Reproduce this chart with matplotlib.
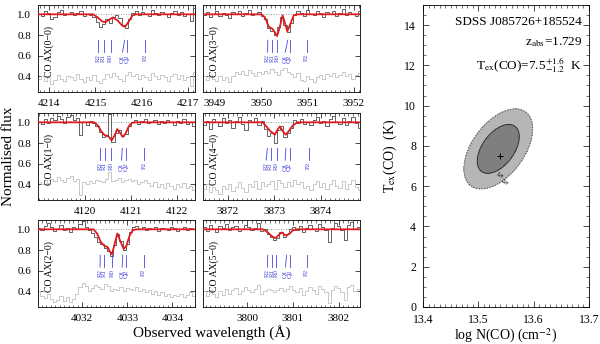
import numpy as np
import matplotlib
matplotlib.use("Agg")
import matplotlib.pyplot as plt
from matplotlib.ticker import MultipleLocator

plt.rcParams['font.family'] = ['Liberation Serif', 'DejaVu Serif']
plt.rcParams['mathtext.fontset'] = 'stix'

# ---- spectra: pixel step (A), start wavelength, flux, residual (offset to 0.4), model knots
STEP = 0.07
line_names = ['R2', 'R1', 'R0', 'Q1', 'Q2', 'P2']

# CO AX(0-0)
wl0_00 = 4213.78
flux_00 = [1.00, 0.98, 1.03, 1.01, 0.95, 0.97, 1.02, 1.04, 0.99, 1.00,
           1.02, 0.99, 1.01, 1.03, 0.98, 1.00, 0.99, 0.97, 0.93, 0.88,
           0.91, 0.95, 0.92, 0.97, 0.99, 0.96, 0.90, 0.87, 0.95, 1.01,
           1.03, 0.99, 1.02, 1.00, 0.98, 1.04, 1.01, 0.99, 1.02, 1.00,
           0.97, 1.01, 1.03, 0.99, 1.02, 0.98, 1.00, 0.94, 1.06, 1.03]
resid_00 = [0.38, 0.40, 0.36, 0.39, 0.33, 0.37, 0.41, 0.38, 0.36, 0.40,
            0.39, 0.37, 0.42, 0.38, 0.35, 0.39, 0.37, 0.41, 0.36, 0.34,
            0.38, 0.42, 0.39, 0.43, 0.40, 0.38, 0.36, 0.41, 0.44, 0.40,
            0.42, 0.38, 0.41, 0.39, 0.37, 0.43, 0.40, 0.38, 0.41, 0.39,
            0.36, 0.40, 0.42, 0.38, 0.41, 0.37, 0.39, 0.31, 0.44, 0.42]
model_wl_00 = [4213.76, 4214.95, 4215.05, 4215.15, 4215.22, 4215.30, 4215.38,
               4215.48, 4215.58, 4215.64, 4215.72, 4215.80, 4215.88, 4217.15]
model_00 = [1.00, 1.00, 0.97, 0.93, 0.925, 0.95, 0.97,
            0.94, 0.89, 0.88, 0.93, 0.99, 1.00, 1.00]
lines_00 = [4215.06, 4215.18, 4215.33, 4215.63, 4215.68, 4216.08]

# CO AX(3-0)
wl0_30 = 3948.76
flux_30 = [0.99, 1.02, 0.97, 1.00, 1.03, 0.98, 1.01, 0.99, 0.96, 1.02,
           1.00, 1.03, 0.98, 1.01, 1.04, 0.99, 1.00, 1.02, 0.98, 0.95,
           0.87, 0.84, 0.80, 0.88, 0.97, 0.90, 0.83, 0.92, 0.99, 1.03,
           1.01, 0.98, 1.04, 1.00, 0.99, 1.03, 1.01, 0.97, 1.02, 1.00,
           1.03, 0.98, 1.01, 1.05, 0.99, 1.02, 1.00, 0.98, 1.03, 1.01]
resid_30 = [0.40, 0.37, 0.41, 0.38, 0.36, 0.40, 0.37, 0.39, 0.35, 0.40,
            0.44, 0.42, 0.45, 0.41, 0.46, 0.43, 0.40, 0.44, 0.42, 0.45,
            0.43, 0.47, 0.44, 0.41, 0.46, 0.48, 0.44, 0.42, 0.39, 0.43,
            0.37, 0.36, 0.40, 0.38, 0.35, 0.39, 0.41, 0.38, 0.42, 0.40,
            0.43, 0.39, 0.41, 0.44, 0.40, 0.42, 0.38, 0.41, 0.43, 0.40]
model_wl_30 = [3948.74, 3950.00, 3950.08, 3950.16, 3950.24, 3950.30, 3950.34,
               3950.40, 3950.46, 3950.52, 3950.56, 3950.62, 3950.70, 3950.78, 3952.13]
model_30 = [1.00, 1.00, 0.97, 0.88, 0.86, 0.82, 0.79,
            0.88, 0.99, 0.90, 0.835, 0.90, 0.99, 1.00, 1.00]
lines_30 = [3950.14, 3950.23, 3950.34, 3950.57, 3950.61, 3950.98]

# CO AX(1-0)
wl0_10 = 4119.00
flux_10 = [1.00, 0.98, 1.03, 0.99, 1.04, 1.02, 1.06, 1.03, 0.99, 1.05,
           1.07, 1.02, 1.04, 0.88, 1.00, 0.97, 1.01, 0.99, 0.96, 0.91,
           0.86, 0.87, 1.08, 0.81, 0.90, 0.93, 0.87, 0.89, 0.96, 1.00,
           1.02, 0.98, 1.01, 1.03, 0.99, 1.00, 1.02, 0.98, 1.01, 0.99,
           1.02, 1.00, 0.97, 1.01, 0.99, 1.03, 0.98, 1.00, 0.96, 0.99]
resid_10 = [0.42, 0.40, 0.44, 0.41, 0.45, 0.43, 0.47, 0.44, 0.42, 0.46,
            0.48, 0.43, 0.45, 0.30, 0.42, 0.40, 0.43, 0.41, 0.44, 0.43,
            0.42, 0.45, 0.52, 0.43, 0.44, 0.46, 0.42, 0.44, 0.45, 0.43,
            0.44, 0.40, 0.42, 0.44, 0.41, 0.39, 0.42, 0.38, 0.40, 0.37,
            0.41, 0.39, 0.36, 0.40, 0.38, 0.41, 0.37, 0.39, 0.35, 0.38]
model_wl_10 = [4118.98, 4120.20, 4120.28, 4120.36, 4120.43, 4120.50, 4120.58, 4120.64,
               4120.70, 4120.76, 4120.82, 4120.88, 4120.95, 4121.02, 4121.10, 4122.39]
model_10 = [1.00, 1.00, 0.97, 0.91, 0.875, 0.87, 0.825, 0.87,
            0.935, 0.90, 0.86, 0.89, 0.96, 0.995, 1.00, 1.00]
lines_10 = [4120.33, 4120.43, 4120.57, 4120.81, 4120.89, 4121.28]

# CO AX(4-0)
wl0_40 = 3871.48
flux_40 = [0.97, 1.01, 0.94, 1.03, 1.00, 0.96, 1.04, 0.99, 1.02, 0.95,
           1.01, 1.05, 0.98, 0.93, 1.02, 1.00, 1.04, 0.97, 1.01, 0.94,
           0.87, 0.90, 0.80, 0.93, 0.96, 0.86, 0.90, 0.95, 1.02, 0.99,
           1.03, 0.98, 1.00, 0.97, 1.02, 1.05, 0.99, 1.01, 0.96, 1.03,
           1.06, 1.00, 0.98, 1.04, 0.97, 1.01, 1.05, 0.99, 0.95, 1.02]
resid_40 = [0.36, 0.40, 0.33, 0.38, 0.35, 0.31, 0.39, 0.36, 0.40, 0.34,
            0.38, 0.42, 0.37, 0.33, 0.40, 0.38, 0.43, 0.36, 0.42, 0.39,
            0.40, 0.43, 0.36, 0.44, 0.41, 0.38, 0.42, 0.39, 0.44, 0.40,
            0.42, 0.37, 0.39, 0.35, 0.40, 0.43, 0.38, 0.41, 0.36, 0.40,
            0.44, 0.39, 0.37, 0.43, 0.36, 0.40, 0.44, 0.38, 0.35, 0.41]
model_wl_40 = [3871.46, 3872.75, 3872.83, 3872.90, 3872.96, 3873.01, 3873.07,
               3873.12, 3873.19, 3873.25, 3873.32, 3873.40, 3873.50, 3874.85]
model_40 = [1.00, 1.00, 0.96, 0.92, 0.90, 0.88, 0.93,
            0.96, 0.91, 0.88, 0.92, 0.97, 1.00, 1.00]
lines_40 = [3872.85, 3872.92, 3873.05, 3873.25, 3873.33, 3873.74]

# CO AX(2-0)
wl0_20 = 4031.04
flux_20 = [1.01, 0.99, 1.03, 1.06, 1.02, 0.98, 1.00, 1.04, 0.99, 1.01,
           0.97, 1.02, 1.00, 1.05, 1.08, 1.02, 0.99, 0.96, 0.93, 0.88,
           0.86, 0.82, 0.79, 0.74, 0.85, 0.95, 0.89, 0.80, 0.86, 0.97,
           1.02, 1.03, 1.00, 1.02, 0.99, 1.01, 1.00, 1.02, 0.98, 1.01,
           1.00, 0.99, 1.02, 1.01, 0.98, 1.00, 1.02, 0.99, 1.01, 1.00]
resid_20 = [0.40, 0.36, 0.34, 0.38, 0.33, 0.30, 0.32, 0.36, 0.31, 0.35,
            0.30, 0.33, 0.38, 0.44, 0.48, 0.45, 0.40, 0.43, 0.46, 0.44,
            0.42, 0.47, 0.45, 0.40, 0.42, 0.41, 0.44, 0.40, 0.43, 0.42,
            0.41, 0.44, 0.40, 0.42, 0.39, 0.41, 0.38, 0.40, 0.37, 0.39,
            0.36, 0.38, 0.35, 0.37, 0.36, 0.38, 0.35, 0.37, 0.39, 0.36]
model_wl_20 = [4031.02, 4032.25, 4032.33, 4032.41, 4032.49, 4032.56, 4032.62, 4032.66, 4032.72,
               4032.78, 4032.85, 4032.92, 4032.98, 4033.05, 4033.12, 4033.20, 4034.50]
model_20 = [1.00, 1.00, 0.96, 0.88, 0.84, 0.83, 0.78, 0.76, 0.86,
            0.96, 0.88, 0.81, 0.84, 0.94, 0.99, 1.00, 1.00]
lines_20 = [4032.40, 4032.49, 4032.66, 4032.90, 4032.98, 4033.36]

# CO AX(5-0)
wl0_50 = 3799.06
flux_50 = [1.02, 0.98, 1.04, 1.00, 0.97, 1.03, 1.01, 1.05, 0.99, 1.02,
           1.03, 0.98, 1.00, 1.04, 1.02, 0.99, 1.01, 1.06, 0.98, 1.00,
           0.95, 0.93, 0.90, 0.92, 0.97, 0.93, 0.95, 1.00, 1.02, 0.99,
           1.03, 0.97, 1.01, 1.04, 1.00, 0.98, 1.05, 1.02, 0.99, 0.88,
           1.01, 1.06, 1.03, 0.99, 0.90, 1.04, 1.07, 1.00, 1.02, 0.98]
resid_50 = [0.40, 0.36, 0.41, 0.38, 0.35, 0.40, 0.37, 0.42, 0.38, 0.41,
            0.43, 0.38, 0.40, 0.44, 0.41, 0.39, 0.42, 0.46, 0.38, 0.40,
            0.42, 0.41, 0.39, 0.41, 0.43, 0.40, 0.42, 0.45, 0.41, 0.39,
            0.43, 0.37, 0.40, 0.44, 0.41, 0.38, 0.45, 0.42, 0.39, 0.29,
            0.41, 0.45, 0.43, 0.39, 0.32, 0.44, 0.46, 0.40, 0.42, 0.38]
model_wl_50 = [3799.04, 3800.35, 3800.45, 3800.55, 3800.62, 3800.70, 3800.76,
               3800.82, 3800.86, 3800.93, 3801.00, 3801.08, 3802.46]
model_50 = [1.00, 1.00, 0.97, 0.93, 0.915, 0.95, 0.97,
            0.945, 0.94, 0.96, 0.99, 1.00, 1.00]
lines_50 = [3800.45, 3800.54, 3800.64, 3800.86, 3800.93, 3801.30]

# ---- excitation fit (chi2 surface approximated by correlated gaussian)
best_logN, best_Tex = 13.54, 7.5
surf_logN, surf_Tex = 13.536, 7.85
sig_logN, sig_Tex, rho = 0.025, 0.80, 0.5
dchi2_levels = [2.30, 6.17]   # 1 and 2 sigma for 2 parameters


def spread_labels(wl, min_sep=0.095):
    # push labels left so they don't sit on top of each other
    pos = list(wl)
    for k in range(len(pos) - 2, -1, -1):
        if pos[k + 1] - pos[k] < min_sep:
            pos[k] = pos[k + 1] - min_sep
    return pos


def draw_spectrum(ax, wl0, flux, resid, model_wl, model, lines, band, xlim, xticks, ylabels):
    wl = wl0 + STEP * np.arange(len(flux))
    ax.axhline(1.0, color='#777777', lw=0.6, ls=(0, (1, 2)), zorder=1)
    ax.plot(wl, resid, drawstyle='steps-mid', color='#c8c8c8', lw=0.7, zorder=2)
    ax.plot(wl, flux, drawstyle='steps-mid', color='#4a4a4a', lw=0.6, zorder=3)
    ax.plot(model_wl, model, color='#e3191c', lw=1.3, zorder=4)

    # transition markers
    lab_pos = spread_labels(lines)
    for name, w, lw_ in zip(line_names, lines, lab_pos):
        ax.plot([lw_, w], [0.635, 0.75], color='#4646e0', lw=0.6, zorder=5)
        ax.text(lw_, 0.615, name, rotation=90, ha='center', va='top',
                fontsize=5, color='#4646e0')

    ax.text(0.07, 0.64, band, transform=ax.get_yaxis_transform(), rotation=90,
            ha='center', va='center', fontsize=7)

    ax.set_xlim(*xlim)
    ax.set_ylim(0.25, 1.09)
    ax.set_xticks(xticks)
    ax.set_xticklabels([str(t) for t in xticks])
    ax.xaxis.set_minor_locator(MultipleLocator(0.1))
    ax.set_yticks([0.4, 0.6, 0.8, 1.0])
    if not ylabels:
        ax.set_yticklabels([])
    ax.tick_params(which='both', direction='in', top=True, right=True, labelsize=8, pad=5)
    ax.tick_params(which='major', length=3.5, width=0.5)
    ax.tick_params(which='minor', length=1.8, width=0.4)
    for s in ax.spines.values():
        s.set_linewidth(0.6)


fig = plt.figure(figsize=(6.0, 3.44), dpi=100)

col_x = [0.0633, 0.3383]
row_y = [0.7326, 0.4186, 0.1076]
pw, ph = 0.2617, 0.2529

panels = [
    (0, 0, wl0_00, flux_00, resid_00, model_wl_00, model_00, lines_00, 'CO AX(0\u22120)',
     (4213.76, 4217.15), [4214, 4215, 4216, 4217]),
    (0, 1, wl0_30, flux_30, resid_30, model_wl_30, model_30, lines_30, 'CO AX(3\u22120)',
     (3948.74, 3952.13), [3949, 3950, 3951, 3952]),
    (1, 0, wl0_10, flux_10, resid_10, model_wl_10, model_10, lines_10, 'CO AX(1\u22120)',
     (4118.98, 4122.39), [4120, 4121, 4122]),
    (1, 1, wl0_40, flux_40, resid_40, model_wl_40, model_40, lines_40, 'CO AX(4\u22120)',
     (3871.46, 3874.85), [3872, 3873, 3874]),
    (2, 0, wl0_20, flux_20, resid_20, model_wl_20, model_20, lines_20, 'CO AX(2\u22120)',
     (4031.02, 4034.50), [4032, 4033, 4034]),
    (2, 1, wl0_50, flux_50, resid_50, model_wl_50, model_50, lines_50, 'CO AX(5\u22120)',
     (3799.04, 3802.46), [3800, 3801, 3802]),
]

for row, col, wl0, flux, resid, mwl, mod, lines, band, xlim, xticks in panels:
    ax = fig.add_axes([col_x[col], row_y[row], pw, ph])
    draw_spectrum(ax, wl0, flux, resid, mwl, mod, lines, band, xlim, xticks, ylabels=(col == 0))

fig.text(0.014, 0.545, 'Normalised flux', rotation=90, ha='center', va='center', fontsize=11)
fig.text(0.353, 0.032, 'Observed wavelength (\u00c5)', ha='center', va='center', fontsize=11)

# ---- right panel: Tex vs N(CO) confidence contours
axr = fig.add_axes([0.705, 0.1076, 0.2767, 0.878])
N = np.linspace(13.4, 13.7, 400)
T = np.linspace(0, 15, 400)
NN, TT = np.meshgrid(N, T)
dx = (NN - surf_logN) / sig_logN
dy = (TT - surf_Tex) / sig_Tex
chi2 = (dx**2 - 2 * rho * dx * dy + dy**2) / (1 - rho**2)

axr.contourf(NN, TT, chi2, levels=[0] + dchi2_levels, colors=['#7f7f7f', '#b6b6b6'])
axr.contour(NN, TT, chi2, levels=[dchi2_levels[0]], colors='#222222', linewidths=0.7)
axr.contour(NN, TT, chi2, levels=[dchi2_levels[1]], colors='#555555', linewidths=0.8,
            linestyles=[(0, (1, 1.5))])
axr.plot(best_logN, best_Tex, marker='+', color='k', ms=5, mew=0.7)
axr.text(13.540, 6.55, r'1$\sigma$', fontsize=5, rotation=-30, ha='center', va='center')
axr.text(13.549, 6.2, r'2$\sigma$', fontsize=5, rotation=-30, ha='center', va='center')

axr.text(0.958, 0.944, 'SDSS J085726+185524', transform=axr.transAxes, ha='right', va='center',
         fontsize=9.5)
axr.text(0.958, 0.877, r'z$_{\rm abs}$=1.729', transform=axr.transAxes, ha='right', va='center',
         fontsize=9.5)
axr.text(0.958, 0.80, r'T$_{\rm ex}$(CO)=7.5$^{+1.6}_{-1.2}$  K', transform=axr.transAxes,
         ha='right', va='center', fontsize=9.5)

axr.set_xlim(13.4, 13.7)
axr.set_ylim(0, 15)
axr.set_xticks([13.4, 13.5, 13.6, 13.7])
axr.set_xticklabels(['13.4', '13.5', '13.6', '13.7'])
axr.set_yticks([0, 2, 4, 6, 8, 10, 12, 14])
axr.xaxis.set_minor_locator(MultipleLocator(0.01))
axr.yaxis.set_minor_locator(MultipleLocator(0.5))
axr.tick_params(which='both', direction='in', top=True, right=True, labelsize=8.5, pad=5)
axr.tick_params(which='major', length=4, width=0.5)
axr.tick_params(which='minor', length=2, width=0.4)
for s in axr.spines.values():
    s.set_linewidth(0.6)
axr.set_xlabel(r'log N(CO) (cm$^{-2}$)', fontsize=10, labelpad=1)
axr.set_ylabel(r'T$_{\rm ex}$(CO)  (K)', fontsize=10, labelpad=4)

fig.savefig('out.png', dpi=100)
